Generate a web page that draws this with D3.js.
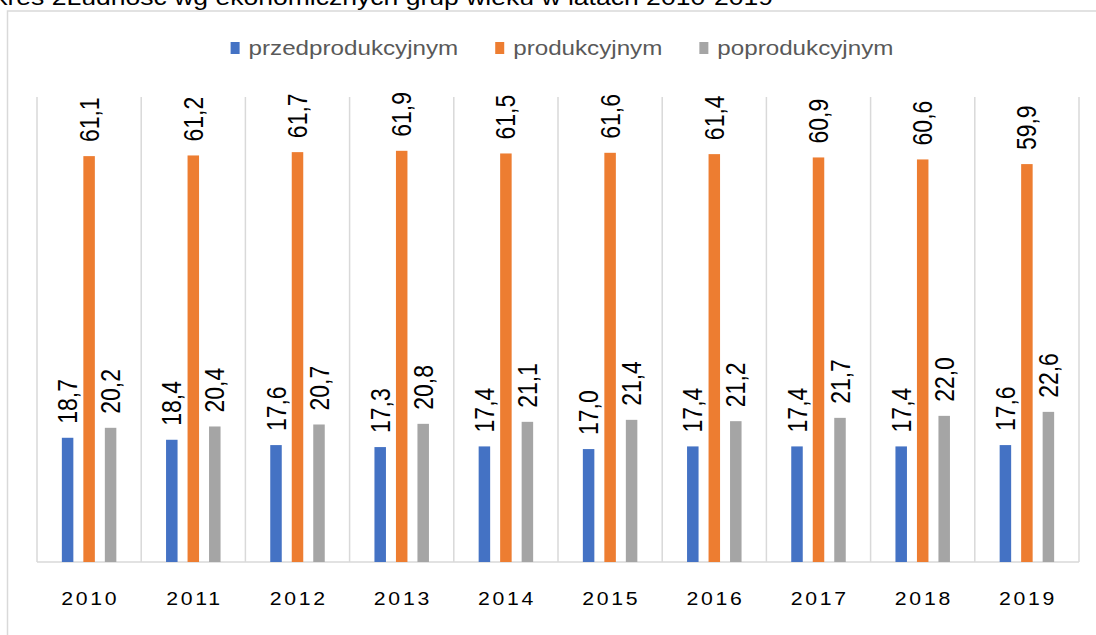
<!DOCTYPE html>
<html>
<head>
<meta charset="utf-8">
<script src="https://cdn.jsdelivr.net/npm/d3@7"></script>
<style>
body { margin:0; background:#fff; }
svg { display:block; }
</style>
</head>
<body>
<svg id="chart"></svg>
<script>
var years = ["2010","2011","2012","2013","2014","2015","2016","2017","2018","2019"];
var seriesNames = ["przedprodukcyjnym","produkcyjnym","poprodukcyjnym"];
var seriesColors = ["#4472C4","#ED7D31","#A5A5A5"];
var przed = [18.7,18.4,17.6,17.3,17.4,17.0,17.4,17.4,17.4,17.6];
var prod = [61.1,61.2,61.7,61.9,61.5,61.6,61.4,60.9,60.6,59.9];
var popr = [20.2,20.4,20.7,20.8,21.1,21.4,21.2,21.7,22.0,22.6];
var title = "Wykres 2Ludność wg ekonomicznych grup wieku w latach 2010-2019";

// the whole picture is a bit wider than tall, text is stretched horizontally
var stretch = 1.18;
var screen = {width:1096, height:635};
var vbW = screen.width/stretch;
var px = function(v){ return v/stretch; };

var svg = d3.select("#chart")
    .attr("width", screen.width)
    .attr("height", screen.height)
    .attr("viewBox", "0 0 " + vbW + " " + screen.height)
    .attr("preserveAspectRatio", "none");

var plot = {left:px(37), right:px(1079), top:97, bottom:562};

var table = years.map(function(y, i){
    return {year:y, values:[przed[i], prod[i], popr[i]]};
});

var xScale = d3.scaleBand()
    .domain(years)
    .range([plot.left, plot.right]);

var xInner = d3.scaleBand()
    .domain(d3.range(seriesNames.length))
    .range([0, xScale.bandwidth()])
    .paddingInner(0.465)
    .paddingOuter(1.156);

var yScale = d3.scaleLinear()
    .domain([0,70])
    .range([plot.bottom, plot.top]);

// outer chart frame
svg.append("rect")
    .attr("x", px(7.5))
    .attr("y", 11)
    .attr("width", vbW + 20)
    .attr("height", screen.height + 20)
    .attr("fill", "none")
    .attr("stroke", "#d9d9d9")
    .attr("stroke-width", 1.5)
    .attr("vector-effect", "non-scaling-stroke");

// title, cut at the top like in the source
svg.append("text")
    .attr("x", px(773))
    .attr("y", 4.5)
    .attr("text-anchor", "end")
    .attr("font-family", "Liberation Sans, Arial, sans-serif")
    .attr("font-size", "22.5px")
    .attr("fill", "#000")
    .text(title);

// vertical grid lines between categories
var bounds = years.map(function(y){ return xScale(y); }).concat([plot.right]);
svg.append("g")
    .selectAll("line")
    .data(bounds)
    .enter()
    .append("line")
    .attr("x1", function(d){ return d; })
    .attr("x2", function(d){ return d; })
    .attr("y1", plot.top)
    .attr("y2", plot.bottom)
    .attr("stroke", "#d9d9d9")
    .attr("stroke-width", 1.5)
    .attr("vector-effect", "non-scaling-stroke");

// x axis
var xAxis = d3.axisBottom(xScale).tickSize(0).tickPadding(30);
var axisG = svg.append("g")
    .attr("transform", "translate(0," + plot.bottom + ")")
    .call(xAxis);
axisG.select(".domain")
    .attr("d", "M" + plot.left + ",0H" + plot.right)
    .attr("stroke", "#d9d9d9")
    .attr("stroke-width", 1.5)
    .attr("vector-effect", "non-scaling-stroke");
axisG.selectAll("text")
    .attr("font-family", "Liberation Sans, Arial, sans-serif")
    .attr("font-size", "18px")
    .attr("letter-spacing", "2.3px")
    .attr("dx", "1px")
    .attr("fill", "#000");

// bars
var groups = svg.append("g")
    .selectAll("g")
    .data(table)
    .enter()
    .append("g")
    .attr("transform", function(d){ return "translate(" + xScale(d.year) + ",0)"; });

groups.selectAll("rect")
    .data(function(d){ return d.values; })
    .enter()
    .append("rect")
    .attr("x", function(d, i){ return xInner(i); })
    .attr("y", function(d){ return yScale(d); })
    .attr("width", xInner.bandwidth())
    .attr("height", function(d){ return plot.bottom - yScale(d); })
    .attr("fill", function(d, i){ return seriesColors[i]; });

// rotated value labels
groups.selectAll("text")
    .data(function(d){ return d.values; })
    .enter()
    .append("text")
    .attr("transform", function(d, i){
        return "translate(" + (xInner(i) + xInner.bandwidth()/2) + "," + (yScale(d) - 14) + ") rotate(-90)";
    })
    .attr("dy", "0.35em")
    .attr("text-anchor", "start")
    .attr("font-family", "Liberation Sans, Arial, sans-serif")
    .attr("font-size", "23px")
    .attr("fill", "#000")
    .text(function(d){ return d.toFixed(1).replace(".", ","); });

// legend
var legend = svg.append("g");
var items = legend.selectAll("g")
    .data(seriesNames)
    .enter()
    .append("g");
items.append("rect")
    .attr("y", 42)
    .attr("width", px(9))
    .attr("height", 12)
    .attr("fill", function(d, i){ return seriesColors[i]; });
items.append("text")
    .attr("x", px(18))
    .attr("y", 55)
    .attr("font-family", "Liberation Sans, Arial, sans-serif")
    .attr("font-size", "20.5px")
    .attr("fill", "#595959")
    .text(function(d){ return d; });

var widths = [];
items.select("text").each(function(){ widths.push(this.getComputedTextLength()); });
var gap = px(37);
var total = d3.sum(widths) + widths.length*px(18) + gap*(widths.length-1);
var start = px(562) - total/2;
var cur = start;
items.attr("transform", function(d, i){
    var t = "translate(" + cur + ",0)";
    cur += px(18) + widths[i] + gap;
    return t;
});
</script>
</body>
</html>
